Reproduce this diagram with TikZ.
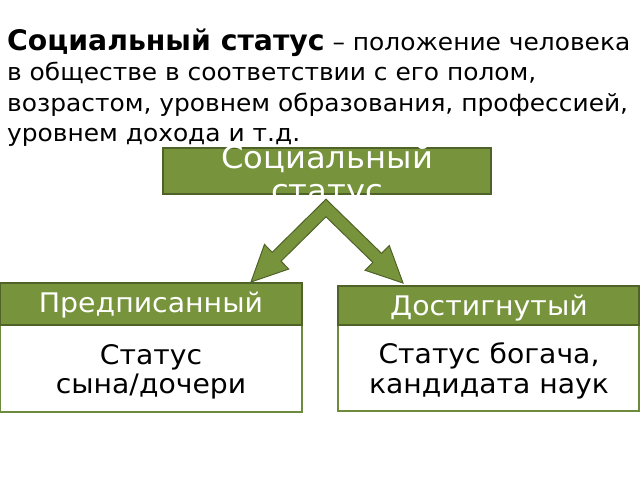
\documentclass[tikz,border=0pt]{standalone}
\usepackage{fontspec}
\setmainfont{DejaVu Sans}
\newfontfamily\widefont{DejaVu Sans}[FakeStretch=1.05]
\definecolor{ogreen}{HTML}{77933C}
\definecolor{odark}{HTML}{4F6228}
\definecolor{oline}{HTML}{6E8B3D}
\begin{document}
\begin{tikzpicture}[x=1pt,y=-1pt,
  titletxt/.style={anchor=base west, inner sep=0pt, font=\widefont\fontsize{23.7}{26}\selectfont},
  headbox/.style={draw=odark, fill=ogreen, line width=1.2pt, inner sep=0pt},
  bodybox/.style={draw=oline, fill=white, line width=1.5pt, inner sep=0pt},
  headtxt/.style={text=white, inner sep=0pt, font=\widefont\fontsize{27}{29}\selectfont},
  bodytxt/.style={text=black, inner sep=0pt, align=center, font=\widefont\fontsize{26.9}{29.5}\selectfont},
  toptxt/.style={text=white, inner sep=0pt, align=center, font=\widefont\fontsize{30.7}{33}\selectfont},
  arrowshape/.style={draw=odark, fill=ogreen, line width=1pt, line join=miter}
]
\useasboundingbox (0,0) rectangle (640,480);
% title
\node[titletxt] (t1) at (7,50) {{\normalfont\bfseries\fontsize{28.3}{30}\selectfont Социальный статус} – положение человека};
\node[titletxt] (t2) at (7,80.5) {в обществе в соответствии с его полом,};
\node[titletxt] (t3) at (7,111) {возрастом, уровнем образования, профессией,};
\node[titletxt] (t4) at (7,141) {уровнем дохода и т.д.};
% top box
\node[headbox, minimum width=328pt, minimum height=46pt] (top) at (327,171) {};
% bottom boxes
\node[bodybox, minimum width=302pt, minimum height=87pt] (lbody) at (151,368.5) {};
\node[headbox, minimum width=302pt, minimum height=42pt] (lhead) at (151,304) {};
\node[bodybox, minimum width=301pt, minimum height=86pt] (rbody) at (488.5,368) {};
\node[headbox, minimum width=301pt, minimum height=39pt] (rhead) at (488.5,305.5) {};
% arrows
\coordinate (apex) at (326,199.2);
\coordinate (inapex) at (326,216.8);
\coordinate (ltip) at (251,282);
\coordinate (rtip) at (403,283);
\draw[arrowshape] (apex) -- (381.57,253.4) -- (389.28,245.49) -- (rtip)
  -- (365.14,270.27) -- (372.85,262.36) -- (inapex) -- (281.01,261.17)
  -- (288.77,269.03) -- (ltip) -- (264.47,244.41) -- (272.23,252.27) -- cycle;
% texts
\node[toptxt] (toplabel) at (327,177) {Социальный\\статус};
\node[headtxt] (lheadtxt) at (151,305.5) {Предписанный};
\node[headtxt] (rheadtxt) at (489,308.5) {Достигнутый};
\node[bodytxt] (lbodytxt) at (151,372) {Статус\\сына/дочери};
\node[bodytxt] (rbodytxt) at (489,371) {Статус богача,\\кандидата наук};
\end{tikzpicture}
\end{document}
